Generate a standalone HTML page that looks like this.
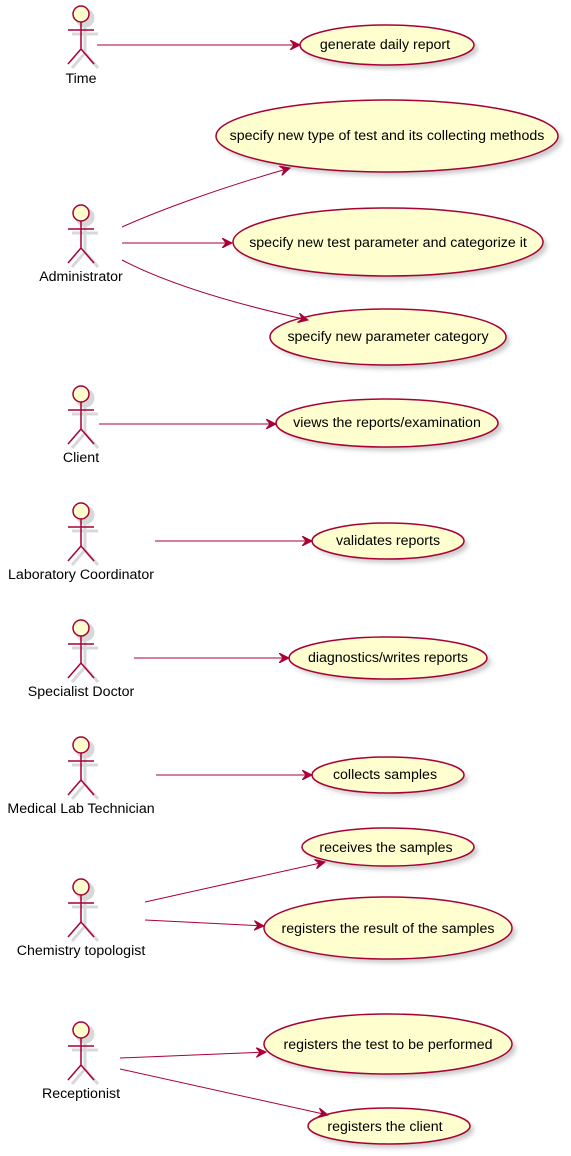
<!DOCTYPE html>
<html><head><meta charset="utf-8"><style>
html,body{margin:0;padding:0;background:#fff;}
svg{display:block;}
text{font-family:"Liberation Sans",sans-serif;font-size:14.2px;fill:#000;}
</style></head><body>
<svg width="571" height="1156" viewBox="0 0 571 1156" xmlns="http://www.w3.org/2000/svg">
<defs>
<filter id="sh" x="-20%" y="-20%" width="150%" height="150%"><feGaussianBlur stdDeviation="2"/></filter>
<marker id="ar" markerWidth="12" markerHeight="10" refX="10" refY="5" orient="auto" markerUnits="userSpaceOnUse">
<path d="M0,0 L10,5 L0,10 L4,5 Z" fill="#A80036" stroke="#A80036" stroke-width="1"/>
</marker>
<g id="actor">
<g transform="translate(4,4)" stroke="#d8d8d8" stroke-width="3" fill="#d8d8d8">
<circle cx="0" cy="0" r="8"/><path d="M0,8 V35 M-13,16 H13 M0,35 L-13,50 M0,35 L13,50" fill="none"/>
</g>
<circle cx="0" cy="0" r="8" fill="#FEFECE" stroke="#A80036" stroke-width="1.5"/>
<path d="M0,8 V35 M-13,16 H13 M0,35 L-13,50 M0,35 L13,50" fill="none" stroke="#A80036" stroke-width="1.5"/>
</g>
</defs>

<g>
<use href="#actor" x="81" y="14"/><text x="81" y="83" text-anchor="middle">Time</text>
<use href="#actor" x="81" y="213"/><text x="81" y="281" text-anchor="middle">Administrator</text>
<use href="#actor" x="81" y="394"/><text x="81" y="462" text-anchor="middle">Client</text>
<use href="#actor" x="81" y="511"/><text x="81" y="579" text-anchor="middle">Laboratory Coordinator</text>
<use href="#actor" x="81" y="628"/><text x="81" y="696" text-anchor="middle">Specialist Doctor</text>
<use href="#actor" x="81" y="745"/><text x="81" y="813" text-anchor="middle">Medical Lab Technician</text>
<use href="#actor" x="81" y="887"/><text x="81" y="955" text-anchor="middle">Chemistry topologist</text>
<use href="#actor" x="81" y="1030"/><text x="81" y="1098" text-anchor="middle">Receptionist</text>
</g>

<g>
<g filter="url(#sh)" fill="#aaa" opacity="0.6">
<ellipse cx="391" cy="49" rx="87" ry="20"/>
<ellipse cx="391" cy="140" rx="171" ry="36"/>
<ellipse cx="392" cy="246" rx="155" ry="34"/>
<ellipse cx="392" cy="341" rx="118" ry="28"/>
<ellipse cx="391" cy="427" rx="111" ry="24"/>
<ellipse cx="392" cy="545" rx="76" ry="18"/>
<ellipse cx="392" cy="662" rx="99" ry="21"/>
<ellipse cx="392" cy="779" rx="76" ry="18"/>
<ellipse cx="392" cy="851" rx="86" ry="19"/>
<ellipse cx="392" cy="932" rx="124" ry="31"/>
<ellipse cx="392" cy="1048" rx="124" ry="30"/>
<ellipse cx="393" cy="1130" rx="81" ry="18"/>
</g>
<g fill="#FEFECE" stroke="#A80036" stroke-width="1.5">
<ellipse cx="387" cy="45" rx="87" ry="20"/>
<ellipse cx="387" cy="136" rx="171" ry="36"/>
<ellipse cx="388" cy="242" rx="155" ry="34"/>
<ellipse cx="388" cy="337" rx="118" ry="28"/>
<ellipse cx="387" cy="423" rx="111" ry="24"/>
<ellipse cx="388" cy="541" rx="76" ry="18"/>
<ellipse cx="388" cy="658" rx="99" ry="21"/>
<ellipse cx="388" cy="775" rx="76" ry="18"/>
<ellipse cx="388" cy="847" rx="86" ry="19"/>
<ellipse cx="388" cy="928" rx="124" ry="31"/>
<ellipse cx="388" cy="1044" rx="124" ry="30"/>
<ellipse cx="389" cy="1126" rx="81" ry="18"/>
</g>
<g text-anchor="middle">
<text x="385" y="49">generate daily report</text>
<text x="387" y="140">specify new type of test and its collecting methods</text>
<text x="388" y="247">specify new test parameter and categorize it</text>
<text x="388" y="341">specify new parameter category</text>
<text x="387" y="427">views the reports/examination</text>
<text x="388" y="545">validates reports</text>
<text x="388" y="662">diagnostics/writes reports</text>
<text x="385" y="779">collects samples</text>
<text x="386" y="852">receives the samples</text>
<text x="388" y="933">registers the result of the samples</text>
<text x="388" y="1049">registers the test to be performed</text>
<text x="385" y="1131">registers the client</text>
</g>
</g>

<g stroke="#A80036" stroke-width="1" fill="none" marker-end="url(#ar)">
<path d="M97,45 L300,45"/>
<path d="M122,227 C160,210 220,188 290,168"/>
<path d="M122,243 L232,243"/>
<path d="M122,260 C170,285 240,305 308,320"/>
<path d="M99,424 L276,424"/>
<path d="M155,541 L312,541"/>
<path d="M134,658 L289,658"/>
<path d="M156,775 L312,775"/>
<path d="M145,902 L325,862"/>
<path d="M145,920 L264,926"/>
<path d="M120,1058 L266,1052"/>
<path d="M120,1069 L328,1115"/>
</g>
</svg>
</body></html>
